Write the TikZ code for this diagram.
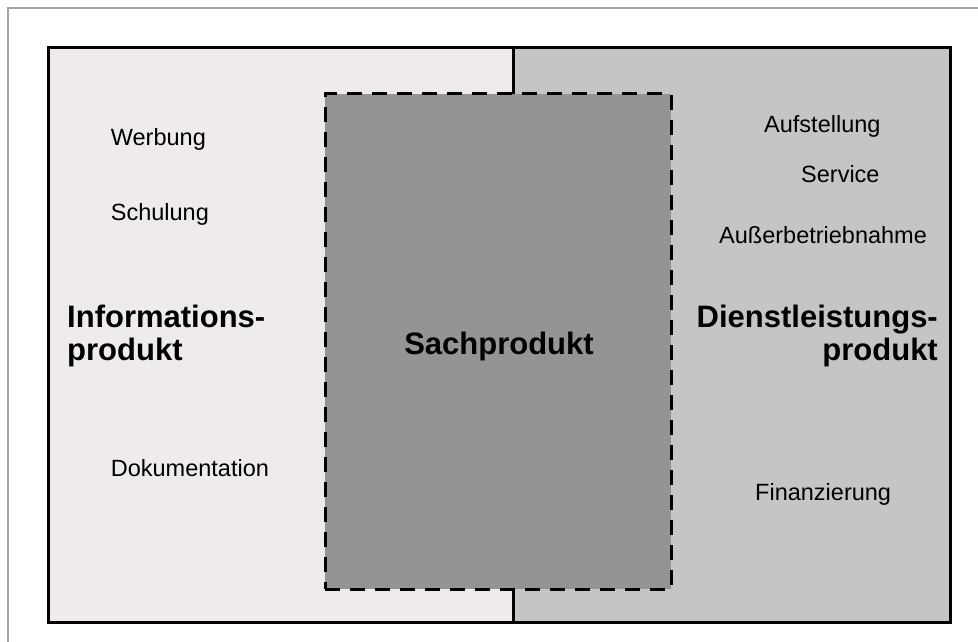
\documentclass[tikz,border=0pt]{standalone}
\usepackage{fontspec}
\setmainfont{Liberation Sans}
\definecolor{framegray}{HTML}{A6A6A6}
\definecolor{infofill}{HTML}{EEEAED}
\definecolor{dienstfill}{HTML}{C6C4C7}
\definecolor{sachfill}{HTML}{939592}
\tikzset{
  area/.style={draw=black, line width=3pt, rectangle, inner sep=0pt, outer sep=0pt},
  corebox/.style={draw=black, line width=3pt, dash pattern=on 15pt off 10pt, rectangle,
    fill=sachfill, inner sep=0pt, outer sep=0pt},
  item/.style={inner sep=0pt, font=\fontsize{23.5}{28}\selectfont},
  heading/.style={inner sep=0pt, font=\fontsize{31}{33}\selectfont\bfseries},
}
\begin{document}
\begin{tikzpicture}[x=1pt, y=-1pt]
\useasboundingbox (0,0) rectangle (978,642);
% thin outer frame (only top and left edges lie inside the page)
\coordinate (fbl) at (8,642);
\coordinate (ftl) at (8,8);
\coordinate (ftr) at (978,8);
\draw[framegray, line width=1.5pt] (fbl) -- (ftl) -- (ftr);

% the two product halves
\node[area, fill=infofill, minimum width=465pt, minimum height=574pt, anchor=north west]
  (info) at (48,48) {};
\node[area, fill=dienstfill, minimum width=437pt, minimum height=574pt, anchor=north west]
  (dienst) at (513,48) {};
% dashed core on top of the dividing line
\node[corebox, minimum width=346pt, minimum height=495pt, anchor=north west]
  (sach) at (325,94) {};

% headings
\node[heading, align=left, anchor=north west] (infolbl) at (67,304.5)
  {Informations-\\produkt};
\node[heading, align=right, anchor=north east] (dienstlbl) at (938,304.5)
  {Dienstleistungs-\\produkt};
\node[heading, anchor=base] (sachlbl) at (499,354) {Sachprodukt};

% information items
\node[item, anchor=base west] (werbung) at (110.7,145) {Werbung};
\node[item, anchor=base west] (schulung) at (110.7,220) {Schulung};
\node[item, anchor=base west] (doku) at (110.7,476) {Dokumentation};

% service items
\node[item, anchor=base west] (aufst) at (764,132) {Aufstellung};
\node[item, anchor=base west] (service) at (801,182) {Service};
\node[item, anchor=base west] (ausser) at (719,243) {Außerbetriebnahme};
\node[item, anchor=base west] (finanz) at (755,500) {Finanzierung};
\end{tikzpicture}
\end{document}
